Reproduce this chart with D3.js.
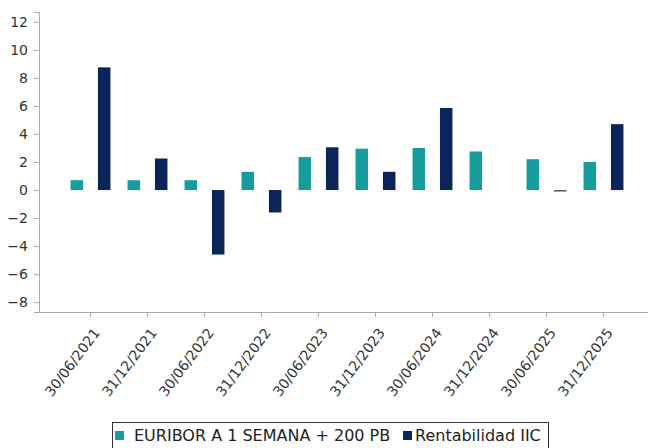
<!DOCTYPE html>
<html><head><meta charset="utf-8">
<script src="https://cdn.jsdelivr.net/npm/d3@7/dist/d3.min.js"></script>
<style>body{margin:0;background:#fff}svg{display:block;font-family:"DejaVu Sans",sans-serif}</style>
</head><body><svg width="648" height="448"></svg>
<script>
const categories = ["30/06/2021","31/12/2021","30/06/2022","31/12/2022","30/06/2023","31/12/2023","30/06/2024","31/12/2024","30/06/2025","31/12/2025"];
const euribor = [0.7,0.7,0.7,1.3,2.35,2.95,3.0,2.75,2.2,2.0];
const rentabilidad = [8.75,2.25,-4.6,-1.6,3.05,1.3,5.85,null,-0.08,4.7];
const seriesNames = ["EURIBOR A 1 SEMANA + 200 PB","Rentabilidad IIC"];
const yTicks = [12,10,8,6,4,2,0,-2,-4,-6,-8];
const colors = ["#169c9c","#0b2459"];

const svg = d3.select("svg");
const x = d3.scaleBand().domain(categories).range([62, 632]).padding(0);
const sub = d3.scaleBand().domain([0,1]).range([0, x.bandwidth()]).paddingInner(0.544).paddingOuter(0.312);
const y = d3.scaleLinear().domain([-8.7, 12.7]).range([312, 12]);

const axisColor = "#aaa";
// y axis
const ya = svg.append("g").attr("transform","translate(39,0)")
  .call(d3.axisLeft(y).tickValues(yTicks).tickSize(5).tickPadding(6).tickFormat(d3.format("d")));
ya.select(".domain").attr("stroke",axisColor);
ya.selectAll(".tick line").attr("stroke",axisColor);
ya.selectAll("text").attr("fill","#333").style("font-size","14px").style("font-family","DejaVu Sans");

// x axis
const xa = svg.append("g").attr("transform","translate(0,312)")
  .call(d3.axisBottom(x).tickSize(5).tickSizeOuter(0));
xa.select(".domain").attr("d","M39,0.5H648").attr("stroke",axisColor);
xa.selectAll(".tick line").attr("stroke",axisColor);
xa.selectAll("text").attr("fill","#333").style("font-size","14px").style("font-family","DejaVu Sans")
  .attr("text-anchor","end").attr("dy",0).attr("y",0)
  .attr("transform","translate(10,21) rotate(-53)");

// bars
const data = [euribor, rentabilidad];
data.forEach((vals, si) => {
  svg.append("g").selectAll("rect").data(vals.map((v,i)=>({v,c:categories[i]})).filter(d=>d.v!==null))
    .join("rect")
    .attr("x", d => x(d.c) + sub(si))
    .attr("width", sub.bandwidth())
    .attr("y", d => Math.min(y(d.v), y(0)))
    .attr("height", d => Math.max(1.5, Math.abs(y(d.v) - y(0))))
    .attr("fill", d => (si===1 && Math.abs(d.v) < 0.2) ? "#555" : colors[si]);
});

// legend
const lg = svg.append("g");
lg.append("rect").attr("x",112.5).attr("y",422.5).attr("width",436).attr("height",30)
  .attr("fill","#fff").attr("stroke","#333").attr("stroke-width",1);
const items = [{x:115, tx:134},{x:403, tx:415}];
items.forEach((it,i)=>{
  lg.append("rect").attr("x",it.x).attr("y",431).attr("width",9).attr("height",9).attr("fill",colors[i]);
  lg.append("text").attr("x",it.tx).attr("y",441).style("font-size","16px").attr("fill","#222").text(seriesNames[i]);
});
</script></body></html>
